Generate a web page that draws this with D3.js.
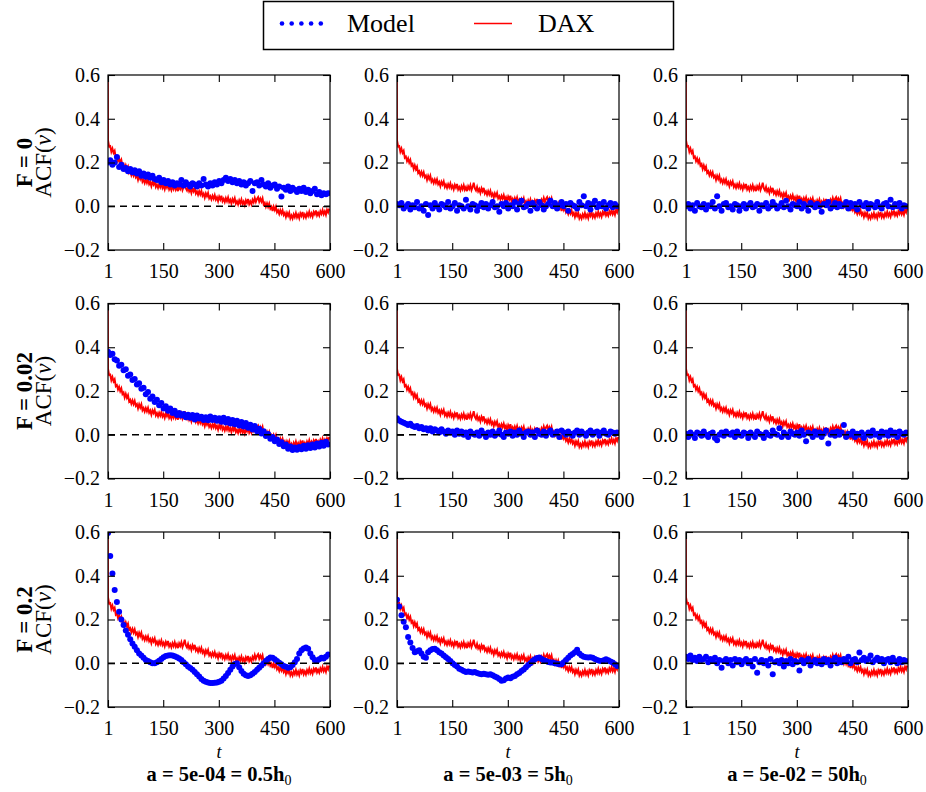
<!DOCTYPE html>
<html lang="en">
<head>
  <meta charset="UTF-8"/>
  <title>ACF of v: Model vs DAX</title>
  <script src="https://d3js.org/d3.v7.min.js"></script>
  <style>
    body { margin: 0; background: #fff; }
    text { font-family: "Liberation Serif", "DejaVu Serif", serif; fill: #000; }
  </style>
</head>
<body>
<script>

 // ---- data ----
 var xTicks = [1, 150, 300, 450, 600];
 var yTicks = [-0.2, 0, 0.2, 0.4, 0.6];
 var rowF = ["0", "0.02", "0.2"];
 var colA = ["5e-04", "5e-03", "5e-02"];
 var colH = ["0.5", "5", "50"];

 // DAX acf, lag 0 then lags 1,4,7,...,598
 var daxLag0 = 1.0;
 var daxStart = 1, daxStep = 3;
 var daxValues = [
  0.302, 0.273, 0.275, 0.249, 0.264, 0.244, 0.254, 0.222, 0.227, 0.206,
  0.219, 0.199, 0.212, 0.186, 0.193, 0.170, 0.187, 0.169, 0.181, 0.152,
  0.160, 0.142, 0.157, 0.140, 0.155, 0.132, 0.140, 0.120, 0.139, 0.124,
  0.139, 0.112, 0.122, 0.106, 0.122, 0.107, 0.123, 0.101, 0.111, 0.092,
  0.112, 0.099, 0.114, 0.088, 0.099, 0.084, 0.101, 0.087, 0.104, 0.083,
  0.094, 0.077, 0.098, 0.085, 0.102, 0.077, 0.088, 0.073, 0.092, 0.078,
  0.096, 0.075, 0.087, 0.069, 0.091, 0.079, 0.096, 0.074, 0.088, 0.108,
  0.081, 0.072, 0.089, 0.068, 0.079, 0.061, 0.082, 0.068, 0.084, 0.058,
  0.068, 0.052, 0.069, 0.054, 0.070, 0.048, 0.058, 0.039, 0.059, 0.046,
  0.061, 0.036, 0.046, 0.031, 0.048, 0.034, 0.051, 0.030, 0.041, 0.023,
  0.044, 0.031, 0.048, 0.023, 0.034, 0.019, 0.037, 0.023, 0.040, 0.019,
  0.030, 0.012, 0.033, 0.021, 0.037, 0.012, 0.023, 0.008, 0.027, 0.013,
  0.031, 0.010, 0.022, 0.005, 0.027, 0.015, 0.033, 0.009, 0.022, 0.009,
  0.030, 0.018, 0.038, 0.020, 0.034, 0.042, 0.021, 0.035, 0.021, 0.036,
  0.008, 0.016, -0.002, 0.013, -0.003, 0.012, -0.011, -0.002, -0.022, -0.002,
  -0.017, -0.002, -0.028, -0.019, -0.035, -0.018, -0.033, -0.018, -0.040, -0.030,
  -0.049, -0.030, -0.044, -0.029, -0.055, -0.042, -0.056, -0.037, -0.050, -0.031,
  -0.051, -0.038, -0.055, -0.032, -0.044, -0.026, -0.050, -0.037, -0.051, -0.031,
  -0.044, -0.025, -0.045, -0.032, -0.048, -0.026, -0.037, -0.019, -0.042, -0.030,
  -0.043, -0.023, -0.035, -0.017, -0.036, -0.023, -0.039, -0.016, -0.028, -0.010
 ];

 // model acf, lags 1,7,13,...,595
 var modelStart = 1, modelStep = 6;

 var modelF0a4 = [
  0.20, 0.21, 0.19, 0.20, 0.225, 0.18, 0.19, 0.17, 0.175, 0.16,
  0.17, 0.155, 0.165, 0.15, 0.16, 0.14, 0.15, 0.135, 0.145, 0.13,
  0.14, 0.125, 0.12, 0.13, 0.11, 0.12, 0.105, 0.115, 0.10, 0.11,
  0.095, 0.105, 0.10, 0.12, 0.095, 0.11, 0.10, 0.09, 0.105, 0.10,
  0.09, 0.105, 0.095, 0.125, 0.10, 0.09, 0.105, 0.095, 0.11, 0.10,
  0.115, 0.105, 0.12, 0.13, 0.115, 0.125, 0.11, 0.12, 0.105, 0.115,
  0.10, 0.11, 0.095, 0.105, 0.115, 0.07, 0.105, 0.11, 0.095, 0.12,
  0.1, 0.09, 0.105, 0.085, 0.095, 0.1, 0.08, 0.09, 0.045, 0.085,
  0.075, 0.09, 0.07, 0.085, 0.075, 0.065, 0.08, 0.07, 0.085, 0.065,
  0.075, 0.06, 0.07, 0.08, 0.055, 0.065, 0.05, 0.06, 0.055, 0.06
 ];
 var modelF0a3 = [
  0.01, 0.005, 0.015, -0.01, 0.0, 0.01, -0.015, 0.005, -0.005, 0.02,
  -0.01, 0.0, -0.02, 0.01, -0.04, 0.005, -0.01, 0.015, 0.0, -0.015,
  0.01, 0.005, -0.005, 0.02, -0.01, 0.0, 0.015, -0.02, 0.005, 0.0,
  -0.01, 0.03, 0.0, -0.015, 0.01, 0.005, -0.02, 0.0, 0.015, -0.005,
  0.01, -0.01, 0.005, 0.02, -0.005, 0.0, -0.025, 0.01, 0.0, 0.015,
  -0.01, 0.005, 0.0, 0.02, -0.015, 0.01, 0.025, -0.005, 0.0, 0.01,
  -0.02, 0.015, 0.0, -0.01, 0.02, 0.005, -0.015, 0.0, 0.01, 0.025,
  0.0, 0.015, -0.01, 0.005, 0.02, 0.0, 0.01, -0.02, 0.015, 0.005,
  0.0, -0.01, 0.02, 0.005, 0.046, 0.0, 0.015, -0.015, 0.01, 0.025,
  -0.005, 0.01, 0.0, 0.02, -0.01, 0.005, 0.015, -0.005, 0.01, 0.0
 ];
 var modelF0a2 = [
  0.0, 0.01, -0.01, 0.005, -0.02, 0.015, 0.0, -0.005, 0.01, -0.015,
  0.005, 0.0, 0.02, -0.01, 0.046, 0.0, -0.02, 0.01, 0.015, -0.005,
  0.0, -0.015, 0.01, 0.005, -0.02, 0.0, 0.01, -0.01, 0.005, 0.015,
  -0.005, 0.0, 0.01, -0.02, 0.005, 0.0, 0.015, -0.01, 0.0, 0.02,
  0.005, -0.01, 0.0, 0.015, -0.005, 0.025, 0.0, -0.015, 0.01, 0.005,
  0.0, 0.02, -0.01, 0.01, 0.0, -0.02, 0.015, 0.005, -0.005, 0.01,
  0.0, -0.025, 0.01, 0.005, 0.02, -0.01, 0.0, 0.015, -0.005, 0.01,
  0.0, 0.005, 0.02, -0.01, 0.015, 0.0, 0.01, -0.015, 0.02, 0.005,
  0.0, 0.015, -0.01, 0.01, 0.005, -0.005, 0.02, 0.0, -0.01, 0.01,
  0.015, 0.0, 0.03, -0.005, 0.01, 0.0, 0.015, -0.01, 0.005, 0.0
 ];
 var modelF002a4 = [
  0.38, 0.365, 0.37, 0.345, 0.34, 0.315, 0.32, 0.295, 0.30, 0.27,
  0.275, 0.25, 0.255, 0.23, 0.235, 0.21, 0.215, 0.185, 0.195, 0.165,
  0.175, 0.15, 0.16, 0.135, 0.145, 0.12, 0.13, 0.11, 0.12, 0.1,
  0.11, 0.09, 0.1, 0.088, 0.095, 0.08, 0.092, 0.078, 0.09, 0.07,
  0.088, 0.074, 0.082, 0.068, 0.08, 0.066, 0.084, 0.068, 0.078, 0.064,
  0.076, 0.06, 0.078, 0.056, 0.072, 0.052, 0.068, 0.048, 0.064, 0.042,
  0.058, 0.038, 0.054, 0.032, 0.046, 0.024, 0.04, 0.016, 0.028, 0.006,
  0.016, -0.006, 0.004, -0.018, -0.01, -0.03, -0.022, -0.042, -0.034, -0.052,
  -0.044, -0.064, -0.054, -0.07, -0.058, -0.068, -0.056, -0.066, -0.05, -0.064,
  -0.048, -0.06, -0.044, -0.058, -0.04, -0.054, -0.036, -0.05, -0.032, -0.044
 ];
 var modelF002a3 = [
  0.075, 0.065, 0.06, 0.055, 0.05, 0.045, 0.05, 0.04, 0.035, 0.04,
  0.03, 0.035, 0.025, 0.03, 0.02, 0.03, 0.015, 0.025, 0.02, 0.01,
  0.025, 0.015, 0.005, 0.02, 0.01, 0.015, 0.0, 0.02, 0.005, 0.015,
  0.0, 0.01, -0.01, 0.015, 0.005, 0.0, 0.01, -0.005, 0.02, 0.005,
  -0.01, 0.01, 0.0, 0.015, -0.005, 0.005, 0.02, 0.0, -0.01, 0.01,
  0.005, 0.015, -0.005, 0.01, 0.0, 0.02, 0.005, -0.01, 0.01, 0.015,
  0.0, 0.01, -0.01, 0.02, 0.005, 0.0, 0.015, -0.005, 0.01, 0.02,
  0.0, 0.005, 0.015, -0.01, 0.02, 0.01, 0.0, 0.015, 0.005, -0.005,
  0.01, 0.02, 0.0, 0.015, 0.005, -0.005, 0.01, 0.02, 0.0, 0.01,
  0.015, -0.005, 0.01, 0.02, 0.005, 0.0, 0.015, 0.01, 0.005, 0.01
 ];
 var modelF002a2 = [
  0.005, -0.01, 0.01, 0.0, -0.015, 0.01, 0.005, -0.005, 0.015, 0.0,
  -0.01, 0.005, 0.01, -0.015, -0.025, 0.0, 0.01, -0.005, 0.015, 0.005,
  0.0, 0.01, -0.01, 0.015, 0.0, -0.005, 0.01, 0.005, -0.015, 0.01,
  0.0, -0.01, 0.015, 0.005, 0.0, -0.015, 0.01, 0.0, -0.005, 0.02,
  0.005, 0.0, 0.03, -0.01, 0.01, 0.0, -0.01, 0.015, 0.005, 0.0,
  0.01, -0.005, 0.02, 0.0, -0.03, 0.01, 0.005, -0.01, 0.015, 0.0,
  0.01, -0.01, 0.005, 0.02, -0.04, 0.0, 0.01, -0.005, 0.015, 0.0,
  0.01, 0.045, -0.01, 0.005, 0.0, 0.015, -0.01, 0.005, 0.0, 0.01,
  -0.015, 0.0, 0.01, -0.005, 0.02, 0.0, 0.005, -0.01, 0.015, 0.0,
  0.01, -0.005, 0.02, 0.0, 0.01, -0.01, 0.015, 0.005, 0.0, 0.01
 ];
 var modelF02a4 = [
  0.595, 0.49, 0.41, 0.335, 0.28, 0.235, 0.2, 0.175, 0.15, 0.13,
  0.11, 0.09, 0.075, 0.06, 0.045, 0.035, 0.025, 0.015, 0.01, 0.005,
  0.0, 0.0, 0.005, 0.012, 0.02, 0.028, 0.033, 0.036, 0.037, 0.036,
  0.032, 0.028, 0.022, 0.015, 0.005, -0.005, -0.015, -0.022, -0.03, -0.04,
  -0.05, -0.06, -0.072, -0.08, -0.085, -0.088, -0.09, -0.09, -0.089, -0.088,
  -0.085, -0.08, -0.07, -0.058, -0.045, -0.03, -0.015, -0.003, 0.0, -0.018,
  -0.035, -0.048, -0.055, -0.058, -0.055, -0.048, -0.04, -0.03, -0.02, -0.01,
  0.0, 0.01, 0.02, 0.026, 0.025, 0.018, 0.01, 0.002, -0.005, -0.012,
  -0.016, -0.02, -0.018, -0.008, 0.005, 0.02, 0.045, 0.06, 0.068, 0.072,
  0.066, 0.045, 0.028, 0.015, 0.012, 0.018, 0.025, 0.022, 0.03, 0.04
 ];
 var modelF02a3 = [
  0.29, 0.26, 0.22, 0.19, 0.165, 0.12, 0.095, 0.07, 0.05, 0.055,
  0.06, 0.045, 0.03, 0.025, 0.05, 0.06, 0.065, 0.066, 0.06, 0.05,
  0.045, 0.035, 0.028, 0.02, 0.01, 0.0, -0.008, -0.015, -0.025, -0.03,
  -0.035, -0.04, -0.038, -0.04, -0.042, -0.04, -0.045, -0.048, -0.05, -0.048,
  -0.05, -0.052, -0.05, -0.055, -0.06, -0.065, -0.072, -0.08, -0.078, -0.07,
  -0.065, -0.068, -0.062, -0.058, -0.05, -0.045, -0.035, -0.028, -0.018, -0.008,
  0.0, 0.01, 0.018, 0.024, 0.026, 0.02, 0.014, 0.01, 0.006, 0.004,
  0.003, 0.0, -0.002, -0.004, -0.005, 0.005, 0.015, 0.025, 0.035, 0.042,
  0.05, 0.062, 0.045, 0.035, 0.03, 0.028, 0.026, 0.028, 0.025, 0.02,
  0.015, 0.012, 0.01, 0.014, 0.018, 0.014, 0.008, 0.004, -0.005, -0.012
 ];
 var modelF02a2 = [
  0.03, 0.02, 0.035, 0.015, 0.025, 0.01, 0.03, 0.015, 0.02, 0.03,
  0.005, 0.02, 0.01, 0.025, 0.0, 0.015, -0.02, 0.01, 0.02, 0.0,
  0.015, -0.01, 0.02, 0.005, 0.015, -0.005, 0.01, 0.02, 0.0, 0.01,
  -0.015, 0.02, -0.043, 0.005, 0.015, 0.0, 0.01, -0.01, 0.02, -0.05,
  0.005, 0.01, 0.0, 0.015, -0.015, 0.01, 0.0, 0.02, -0.005, 0.01,
  0.005, -0.033, 0.015, 0.0, 0.01, 0.02, -0.01, 0.005, 0.015, 0.0,
  0.01, -0.005, 0.02, 0.005, 0.015, -0.01, 0.01, 0.025, 0.0, 0.015,
  0.005, 0.02, 0.01, 0.03, 0.0, 0.015, 0.02, 0.005, 0.049, 0.015,
  0.025, 0.01, 0.02, 0.035, 0.005, 0.015, 0.025, 0.01, 0.02, 0.0,
  0.015, 0.02, 0.005, 0.025, 0.01, 0.0, 0.02, 0.005, 0.015, 0.01
 ];

 var panels = [
  [modelF0a4, modelF0a3, modelF0a2],
  [modelF002a4, modelF002a3, modelF002a2],
  [modelF02a4, modelF02a3, modelF02a2]
 ];

 // ---- layout ----
 var w = 926, h = 792;
 var colX = [108, 397, 686];
 var rowY = [75, 303.5, 532];
 var pw = 222, ph = 175;

 var svg = d3.select("body")
             .append("svg")
             .attr("width", w)
             .attr("height", h);

 svg.append("defs")
    .append("clipPath")
    .attr("id", "plotclip")
    .append("rect")
    .attr("width", pw)
    .attr("height", ph);

 var x = d3.scaleLinear().domain([1, 600]).range([0, pw]);
 var y = d3.scaleLinear().domain([-0.2, 0.6]).range([ph, 0]);

 var line = d3.line()
              .x(function(d) { return x(d[0]); })
              .y(function(d) { return y(d[1]); });

 var daxPoints = [[0, daxLag0]].concat(daxValues.map(function(v, i) {
   return [daxStart + i * daxStep, v];
 }));

 function styleAxis(g) {
   g.select(".domain").remove();
   g.selectAll(".tick line").attr("stroke", "#000").attr("stroke-width", 1.1);
   g.selectAll("text")
    .attr("font-family", "'Liberation Serif', 'DejaVu Serif', serif")
    .attr("font-size", 20)
    .attr("fill", "#000");
 }

 for (var r = 0; r < 3; r++) {
   for (var c = 0; c < 3; c++) {
     var g = svg.append("g")
                .attr("transform", "translate(" + colX[c] + "," + rowY[r] + ")");

     var inner = g.append("g").attr("clip-path", "url(#plotclip)");

     inner.append("path")
          .datum(daxPoints)
          .attr("d", line)
          .attr("fill", "none")
          .attr("stroke", "#ff0000")
          .attr("stroke-width", 1.9)
          .attr("stroke-linejoin", "miter");

     inner.selectAll("circle")
          .data(panels[r][c])
          .enter()
          .append("circle")
          .attr("cx", function(d, i) { return x(modelStart + i * modelStep); })
          .attr("cy", function(d) { return y(d); })
          .attr("r", 3)
          .attr("fill", "#0000ff");

     g.append("line")
      .attr("x1", x(1)).attr("x2", x(600))
      .attr("y1", y(0)).attr("y2", y(0))
      .attr("stroke", "#000")
      .attr("stroke-width", 1.3)
      .attr("stroke-dasharray", "7,5");

     // inward ticks on all four sides
     g.append("g")
      .attr("transform", "translate(0," + ph + ")")
      .call(d3.axisBottom(x).tickValues(xTicks).tickSizeInner(-7).tickSizeOuter(0)
              .tickPadding(14).tickFormat(d3.format("d")))
      .call(styleAxis);

     g.append("g")
      .call(d3.axisTop(x).tickValues(xTicks).tickSizeInner(-7).tickSizeOuter(0).tickFormat(""))
      .call(styleAxis);

     g.append("g")
      .call(d3.axisLeft(y).tickValues(yTicks).tickSizeInner(-7).tickSizeOuter(0)
              .tickPadding(8).tickFormat(d3.format(".1f")))
      .call(styleAxis);

     g.append("g")
      .attr("transform", "translate(" + pw + ",0)")
      .call(d3.axisRight(y).tickValues(yTicks).tickSizeInner(-7).tickSizeOuter(0).tickFormat(""))
      .call(styleAxis);

     g.append("rect")
      .attr("width", pw)
      .attr("height", ph)
      .attr("fill", "none")
      .attr("stroke", "#000")
      .attr("stroke-width", 1.2);
   }

   // row labels
   var cy = rowY[r] + ph / 2;
   svg.append("text")
      .attr("transform", "translate(32," + cy + ") rotate(-90)")
      .attr("text-anchor", "middle")
      .attr("font-size", 23)
      .attr("font-weight", "bold")
      .text("F = " + rowF[r]);

   var acf = svg.append("text")
      .attr("transform", "translate(51," + cy + ") rotate(-90)")
      .attr("text-anchor", "middle")
      .attr("font-size", 23);
   acf.append("tspan").text("ACF(");
   acf.append("tspan").attr("font-style", "italic").text("v");
   acf.append("tspan").text(")");
 }

 // column labels
 for (var k = 0; k < 3; k++) {
   var cx = colX[k] + pw / 2;
   svg.append("text")
      .attr("x", cx)
      .attr("y", 758)
      .attr("text-anchor", "middle")
      .attr("font-size", 18)
      .attr("font-style", "italic")
      .text("t");

   var lab = svg.append("text")
      .attr("x", cx)
      .attr("y", 781)
      .attr("text-anchor", "middle")
      .attr("font-size", 20.5)
      .attr("font-weight", "bold");
   lab.append("tspan").text("a = " + colA[k] + " = " + colH[k] + "h");
   lab.append("tspan")
      .attr("font-size", 14)
      .attr("font-weight", "normal")
      .attr("dy", 4)
      .text("0");
 }

 // legend
 var leg = svg.append("g");
 leg.append("rect")
    .attr("x", 263.5).attr("y", 1.5)
    .attr("width", 410).attr("height", 48)
    .attr("fill", "#fff")
    .attr("stroke", "#000")
    .attr("stroke-width", 1.5);

 leg.selectAll("circle")
    .data([0, 1, 2, 3, 4])
    .enter()
    .append("circle")
    .attr("cx", function(d) { return 282 + d * 9.7; })
    .attr("cy", 23.5)
    .attr("r", 2.3)
    .attr("fill", "#0000ff");

 leg.append("text")
    .attr("x", 347).attr("y", 32)
    .attr("font-size", 26)
    .text("Model");

 leg.append("line")
    .attr("x1", 474).attr("x2", 512)
    .attr("y1", 23.5).attr("y2", 23.5)
    .attr("stroke", "#ff0000")
    .attr("stroke-width", 1.5);

 leg.append("text")
    .attr("x", 538).attr("y", 32)
    .attr("font-size", 26)
    .text("DAX");

</script>
</body>
</html>
